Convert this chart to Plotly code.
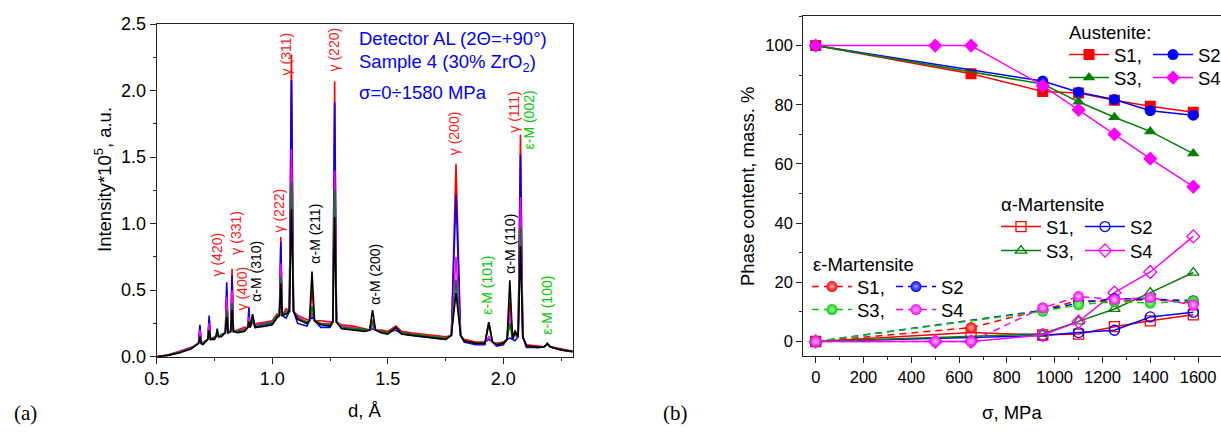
import plotly.graph_objects as go

W, H = 1221, 432

# ---------------- (a) diffraction spectra ----------------
bg_d = [0.50, 0.55, 0.60, 0.65, 0.70, 0.75, 0.78, 0.85, 0.88, 0.93,
        0.97, 1.00, 1.02, 1.06, 1.11, 1.15, 1.21, 1.25, 1.30, 1.35,
        1.40, 1.47, 1.50, 1.535, 1.56, 1.60, 1.65, 1.70, 1.75, 1.83,
        1.88, 1.92, 1.97, 2.00, 2.05, 2.10, 2.15, 2.25, 2.30]
bg_red = [0.0, 0.015, 0.04, 0.07, 0.11, 0.15, 0.17, 0.20, 0.22, 0.25,
          0.26, 0.27, 0.32, 0.36, 0.31, 0.28, 0.27, 0.26, 0.24, 0.23,
          0.21, 0.20, 0.19, 0.23, 0.19, 0.18, 0.17, 0.16, 0.15, 0.13,
          0.11, 0.11, 0.10, 0.11, 0.20, 0.09, 0.08, 0.06, 0.04]
bg_blue = [0.0, 0.012, 0.035, 0.065, 0.10, 0.14, 0.16, 0.19, 0.20, 0.23,
           0.24, 0.25, 0.30, 0.29, 0.25, 0.23, 0.22, 0.22, 0.22, 0.21,
           0.20, 0.19, 0.18, 0.20, 0.17, 0.16, 0.15, 0.14, 0.13, 0.11,
           0.09, 0.09, 0.08, 0.09, 0.12, 0.07, 0.07, 0.05, 0.035]
bg_magenta = [0.0, 0.012, 0.04, 0.07, 0.10, 0.14, 0.16, 0.19, 0.21, 0.24,
              0.25, 0.26, 0.31, 0.34, 0.30, 0.26, 0.25, 0.25, 0.23, 0.22,
              0.20, 0.19, 0.18, 0.21, 0.18, 0.17, 0.16, 0.15, 0.14, 0.12,
              0.10, 0.10, 0.09, 0.10, 0.16, 0.08, 0.07, 0.05, 0.04]
bg_green = [0.0, 0.012, 0.035, 0.065, 0.10, 0.14, 0.16, 0.19, 0.20, 0.23,
            0.25, 0.26, 0.31, 0.34, 0.29, 0.26, 0.25, 0.24, 0.22, 0.21,
            0.20, 0.19, 0.18, 0.22, 0.18, 0.17, 0.16, 0.15, 0.14, 0.12,
            0.10, 0.10, 0.09, 0.10, 0.17, 0.08, 0.07, 0.05, 0.04]
bg_black = [0.0, 0.01, 0.03, 0.06, 0.09, 0.13, 0.15, 0.18, 0.19, 0.22,
            0.23, 0.24, 0.29, 0.32, 0.28, 0.25, 0.24, 0.23, 0.21, 0.20,
            0.19, 0.18, 0.17, 0.22, 0.17, 0.16, 0.15, 0.14, 0.13, 0.12,
            0.10, 0.10, 0.09, 0.10, 0.19, 0.08, 0.07, 0.05, 0.04]

peak_d = [0.687, 0.727, 0.762, 0.803, 0.826, 0.899, 0.915, 1.037, 1.083,
          1.172, 1.270, 1.434, 1.795, 1.937, 2.028, 2.074, 2.190]
peak_hw = [0.006, 0.006, 0.006, 0.006, 0.006, 0.005, 0.011, 0.006, 0.009,
           0.011, 0.008, 0.013, 0.020, 0.016, 0.012, 0.010, 0.013]
peak_foot = [0.10, 0.13, 0.15, 0.18, 0.19, 0.22, 0.22, 0.31, 0.34,
             0.27, 0.26, 0.20, 0.16, 0.11, 0.13, 0.15, 0.075]
peak_red = [0.22, 0.28, 0.18, 0.50, 0.66, 0.30, 0.30, 0.90, 2.27,
            0.50, 2.07, 0.28, 1.45, 0.26, 0.41, 1.67, 0.10]
peak_blue = [0.24, 0.31, 0.17, 0.56, 0.61, 0.375, 0.26, 0.86, 2.08,
             0.30, 1.91, 0.21, 1.22, 0.13, 0.14, 1.52, 0.09]
peak_magenta = [0.20, 0.25, 0.17, 0.45, 0.50, 0.30, 0.27, 0.70, 1.56,
                0.33, 1.40, 0.23, 0.75, 0.15, 0.33, 1.20, 0.09]
peak_green = [0.15, 0.20, 0.17, 0.35, 0.40, 0.27, 0.28, 0.60, 1.31,
              0.38, 1.25, 0.26, 0.58, 0.24, 0.25, 0.97, 0.10]
peak_black = [0.15, 0.20, 0.21, 0.30, 0.35, 0.26, 0.32, 0.55, 1.11,
              0.64, 1.05, 0.35, 0.48, 0.26, 0.575, 0.83, 0.10]

peak_labels = ["γ (420)", "γ (331)", "γ (400)", "α-M (310)", "γ (222)", "γ (311)",
               "α-M (211)", "γ (220)", "α-M (200)", "γ (200)", "ε-M (101)",
               "α-M (110)", "γ (111)", "ε-M (002)", "ε-M (100)"]
label_d = [0.762, 0.842, 0.871, 0.929, 1.030, 1.058, 1.181, 1.268, 1.441,
           1.787, 1.931, 2.025, 2.047, 2.112, 2.191]
label_I = [0.59, 0.75, 0.336, 0.40, 0.92, 2.10, 0.685, 2.13, 0.373,
           1.50, 0.30, 0.61, 1.67, 1.54, 0.15]
label_phase = ["g", "g", "g", "a", "g", "g", "a", "g", "a", "g", "e", "a", "g", "e", "e"]

# ---------------- (b) phase content ----------------
aus_s1_x = [0, 650, 950, 1100, 1250, 1400, 1580]
aus_s1_y = [100, 90.5, 84.5, 84.0, 81.5, 79.5, 77.5]
aus_s2_x = [0, 950, 1100, 1250, 1400, 1580]
aus_s2_y = [100, 88.0, 84.2, 81.8, 78.0, 76.5]
aus_s3_x = [0, 950, 1100, 1250, 1400, 1580]
aus_s3_y = [100, 87.0, 81.0, 75.8, 71.0, 63.5]
aus_s4_x = [0, 500, 650, 950, 1100, 1250, 1400, 1580]
aus_s4_y = [100, 100, 100, 86.5, 78.3, 70.0, 61.8, 52.3]

alp_s1_x = [0, 650, 950, 1100, 1250, 1400, 1580]
alp_s1_y = [0, 3.0, 2.2, 2.5, 5.0, 7.0, 9.0]
alp_s2_x = [0, 950, 1100, 1250, 1400, 1580]
alp_s2_y = [0, 2.0, 3.0, 3.8, 8.3, 9.9]
alp_s3_x = [0, 950, 1100, 1250, 1400, 1580]
alp_s3_y = [0, 2.6, 6.8, 11.0, 16.5, 23.3]
alp_s4_x = [0, 500, 650, 950, 1100, 1250, 1400, 1580]
alp_s4_y = [0, 0, 0, 2.2, 6.7, 16.5, 23.5, 35.5]

eps_s1_x = [0, 650, 1100, 1250, 1400, 1580]
eps_s1_y = [0, 4.7, 13.8, 13.5, 14.3, 13.0]
eps_s2_x = [0, 950, 1100, 1250, 1400, 1580]
eps_s2_y = [0, 10.5, 13.0, 14.5, 14.3, 13.8]
eps_s3_x = [0, 950, 1100, 1250, 1400, 1580]
eps_s3_y = [0, 10.2, 12.4, 13.5, 13.0, 13.6]
eps_s4_x = [0, 500, 650, 950, 1100, 1250, 1400, 1580]
eps_s4_y = [0, 0, 0, 11.4, 15.2, 14.2, 14.8, 12.4]

FONT = "Arial, Liberation Sans, sans-serif"
RED, BLUE, MAG, DGREEN, LGREEN = "#ff0000", "#0000ff", "#ff00ff", "#008000", "#00cc00"
LABEL_COL = {"g": "#ff2020", "a": "#000000", "e": "#00cc00"}


def build_spectrum(bg_I, apex):
    pts = []
    for d, v in zip(bg_d, bg_I):
        if not any(abs(d - pd) <= hw for pd, hw in zip(peak_d, peak_hw)):
            pts.append((d, v))
    for pd, hw, ft, a in zip(peak_d, peak_hw, peak_foot, apex):
        pts += [(pd - hw, ft), (pd, a), (pd + hw, ft)]
    pts.sort()
    return [p[0] for p in pts], [p[1] for p in pts]


fig = go.Figure()

for bg_I, apex, col in [(bg_red, peak_red, RED), (bg_blue, peak_blue, BLUE),
                        (bg_magenta, peak_magenta, MAG), (bg_green, peak_green, DGREEN),
                        (bg_black, peak_black, "#000000")]:
    xs, ys = build_spectrum(bg_I, apex)
    fig.add_trace(go.Scatter(x=xs, y=ys, mode="lines", line=dict(color=col, width=1.6),
                             showlegend=False, xaxis="x", yaxis="y", hoverinfo="skip"))

aus = [(aus_s1_x, aus_s1_y, RED, "square", "S1,", "legend"),
       (aus_s2_x, aus_s2_y, BLUE, "circle", "S2", "legend"),
       (aus_s3_x, aus_s3_y, DGREEN, "triangle-up", "S3,", "legend2"),
       (aus_s4_x, aus_s4_y, MAG, "diamond", "S4", "legend2")]
alp = [(alp_s1_x, alp_s1_y, RED, "square-open", "S1,", "legend3"),
       (alp_s2_x, alp_s2_y, BLUE, "circle-open", "S2", "legend3"),
       (alp_s3_x, alp_s3_y, DGREEN, "triangle-up-open", "S3,", "legend4"),
       (alp_s4_x, alp_s4_y, MAG, "diamond-open", "S4", "legend4")]
eps = [(eps_s1_x, eps_s1_y, RED, "#ffb0b0", "S1,", "legend5"),
       (eps_s2_x, eps_s2_y, BLUE, "#a0a0ff", "S2", "legend5"),
       (eps_s3_x, eps_s3_y, LGREEN, "#b0ffb0", "S3,", "legend6"),
       (eps_s4_x, eps_s4_y, MAG, "#ffc0ff", "S4", "legend6")]

for xs, ys, col, sym, name, lg in aus:
    fig.add_trace(go.Scatter(x=xs, y=ys, mode="lines+markers", name=name, legend=lg,
                             line=dict(color=col, width=1.5),
                             marker=dict(symbol=sym, size=11, color=col, line=dict(width=0)),
                             xaxis="x2", yaxis="y2"))
for xs, ys, col, sym, name, lg in alp:
    fig.add_trace(go.Scatter(x=xs, y=ys, mode="lines+markers", name=name, legend=lg,
                             line=dict(color=col, width=1.5),
                             marker=dict(symbol=sym, size=10, color=col, line=dict(width=1.3, color=col)),
                             xaxis="x2", yaxis="y2"))
for xs, ys, col, hi, name, lg in eps:
    fig.add_trace(go.Scatter(x=xs, y=ys, mode="lines+markers", name=name, legend=lg,
                             line=dict(color=col, width=1.5, dash="7px,5px"),
                             marker=dict(symbol="circle", size=11, color=col, line=dict(width=0),
                                         gradient=dict(type="radial", color=hi)),
                             xaxis="x2", yaxis="y2"))

axis_common = dict(showgrid=False, zeroline=False, showline=True, linecolor="#222",
                   linewidth=1.3, ticks="outside", tickcolor="#222", ticklen=6, tickwidth=1.3,
                   tickfont=dict(family=FONT, size=18, color="#000"))

ann = []
for txt, d, v, ph in zip(peak_labels, label_d, label_I, label_phase):
    ann.append(dict(x=d, y=v, xref="x", yref="y", text=txt, textangle=-90, showarrow=False,
                    xanchor="center", yanchor="bottom",
                    font=dict(family=FONT, size=14, color=LABEL_COL[ph])))


def pap(px, py):
    return px / W, 1 - py / H


info = [("Detector AL (2Θ=+90°)", 38), ("Sample 4 (30% ZrO<sub>2</sub>)", 63),
        ("σ=0÷1580 MPa", 92)]
for txt, py in info:
    x, y = pap(357, py)
    ann.append(dict(x=x, y=y, xref="paper", yref="paper", text=txt, showarrow=False,
                    xanchor="left", yanchor="middle",
                    font=dict(family=FONT, size=18.5, color="#0000ff")))

x, y = pap(365, 410)
ann.append(dict(x=x, y=y, xref="paper", yref="paper", text="d, Å", showarrow=False,
                font=dict(family=FONT, size=18.5, color="#000"), xanchor="center", yanchor="middle"))
x, y = pap(1012, 412)
ann.append(dict(x=x, y=y, xref="paper", yref="paper", text="σ, MPa", showarrow=False,
                font=dict(family=FONT, size=18.5, color="#000"), xanchor="center", yanchor="middle"))
x, y = pap(103, 180)
ann.append(dict(x=x, y=y, xref="paper", yref="paper", text="Intensity*10<sup>5</sup>, a.u.",
                textangle=-90, showarrow=False, xanchor="center", yanchor="middle",
                font=dict(family=FONT, size=18.5, color="#000")))
x, y = pap(747, 186)
ann.append(dict(x=x, y=y, xref="paper", yref="paper", text="Phase content, mass. %",
                textangle=-90, showarrow=False, xanchor="center", yanchor="middle",
                font=dict(family=FONT, size=18.5, color="#000")))
for txt, px in [("(a)", 25), ("(b)", 675)]:
    x, y = pap(px, 413)
    ann.append(dict(x=x, y=y, xref="paper", yref="paper", text=txt, showarrow=False,
                    xanchor="center", yanchor="middle",
                    font=dict(family="Liberation Serif, Times New Roman, serif", size=21, color="#000")))
for txt, px, py in [("Austenite:", 1067, 32), ("α-Martensite", 999, 204), ("ε-Martensite", 811, 264)]:
    x, y = pap(px, py)
    ann.append(dict(x=x, y=y, xref="paper", yref="paper", text=txt, showarrow=False,
                    xanchor="left", yanchor="middle",
                    font=dict(family=FONT, size=18.5, color="#000")))


def leg(px, py):
    x, y = pap(px, py)
    return dict(x=x, y=y, xanchor="left", yanchor="middle", orientation="h",
                bgcolor="rgba(0,0,0,0)", borderwidth=0, itemwidth=40, entrywidth=29,
                font=dict(family=FONT, size=18.5, color="#000"), itemclick=False,
                tracegroupgap=0)


fig.update_layout(
    width=W, height=H, margin=dict(l=0, r=0, t=0, b=0, autoexpand=False),
    paper_bgcolor="white", plot_bgcolor="white",
    xaxis=dict(axis_common, domain=[156.7 / W, 572.7 / W], range=[0.5, 2.3], dtick=0.5,
               tick0=0.5, mirror=True, anchor="y", tickformat=".1f", automargin=False,
               minor=dict(ticks="outside", dtick=0.25, ticklen=3, tickcolor="#222", tickwidth=1.2)),
    yaxis=dict(axis_common, domain=[1 - 356.7 / H, 1 - 24 / H], range=[0, 2.5], dtick=0.5,
               mirror=True, anchor="x", tickformat=".1f", automargin=False,
               minor=dict(ticks="outside", dtick=0.25, ticklen=3, tickcolor="#222", tickwidth=1.2)),
    xaxis2=dict(axis_common, domain=[803.3 / W, 1.0], range=[-52, 1696], dtick=200, tick0=0,
                mirror=True, anchor="y2", automargin=False,
                tickfont=dict(family=FONT, size=16.5, color="#000"),
                minor=dict(ticks="outside", dtick=100, ticklen=3, tickcolor="#222", tickwidth=1.2)),
    yaxis2=dict(axis_common, domain=[1 - 355.7 / H, 1 - 16 / H], range=[-4.8, 110], dtick=20,
                tick0=0, mirror=False, anchor="x2", automargin=False,
                tickfont=dict(family=FONT, size=16.5, color="#000"),
                minor=dict(ticks="outside", dtick=10, ticklen=3, tickcolor="#222", tickwidth=1.2)),
    annotations=ann,
    legend=leg(1064, 55), legend2=leg(1064, 78),
    legend3=leg(996, 227), legend4=leg(996, 251),
    legend5=leg(807, 287), legend6=leg(807, 310),
)

fig.write_html("out.html")
